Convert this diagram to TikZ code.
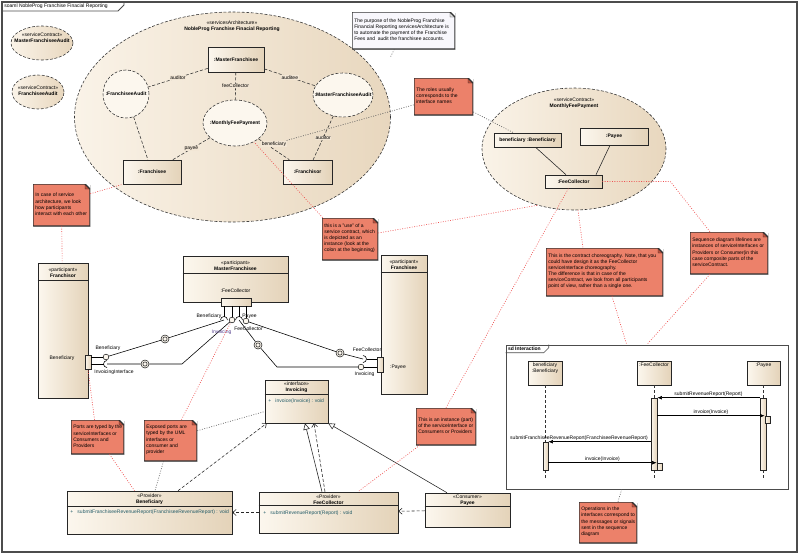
\documentclass[tikz,border=0pt]{standalone}
\usepackage{fontspec}
\setmainfont{Liberation Sans}
\usetikzlibrary{shapes.geometric,arrows.meta,calc,shadows}

\definecolor{boxL}{RGB}{252,247,238}
\definecolor{boxR}{RGB}{228,211,185}
\definecolor{ellL}{RGB}{250,243,232}
\definecolor{ellR}{RGB}{232,215,190}
\definecolor{noteC}{RGB}{236,129,106}
\definecolor{noteD}{RGB}{190,78,58}
\definecolor{purpC}{RGB}{248,247,252}
\definecolor{linkR}{RGB}{238,80,80}
\definecolor{opC}{RGB}{36,92,104}
\definecolor{ifC}{RGB}{84,62,140}

\begin{document}
\begin{tikzpicture}[x=0.7pt,y=-0.7pt,line width=0.4pt,
  every node/.style={font=\fontsize{3.5}{4.3}\selectfont, inner sep=0pt},
  sz/.style 2 args={minimum width=#1*0.7pt, minimum height=#2*0.7pt},
  shad/.style={drop shadow={shadow xshift=0.5pt, shadow yshift=-0.5pt, fill=black!35}},
  ell/.style={ellipse, draw=black!80, dash pattern=on 2pt off 1.2pt, left color=ellL, right color=ellR},
  role/.style={ellipse, draw=black!80, dash pattern=on 2pt off 1.2pt, fill=boxL},
  part/.style={rectangle, draw=black!85, left color=boxL, right color=boxR, shad},
  port/.style={rectangle, draw=black!85, left color=boxL, right color=boxR},
  act/.style={rectangle, draw=black!85, left color=boxL, right color=boxR},
  ball/.style={circle, draw=black!85, fill=boxL, minimum size=4pt},
  asm/.style={circle, draw=black!85, fill=boxL, minimum size=5.6pt,
    path picture={\draw[black!85] (path picture bounding box.center) circle (1.5pt);}},
  notebox/.style 2 args={fill=#1, shad, path picture={
      \coordinate (nne) at (path picture bounding box.north east);
      \coordinate (nsw) at (path picture bounding box.south west);
      \fill[white] ([xshift=-3.5pt]nne) -- (nne) -- ([yshift=-3.5pt]nne) -- cycle;
      \filldraw[fill=#2, draw=black!80, line width=0.3pt] ([xshift=-3.5pt]nne) -- ([xshift=-3.5pt,yshift=-3.5pt]nne) -- ([yshift=-3.5pt]nne) -- cycle;
      \draw[black!80, line width=0.8pt] (nsw) -- (nsw -| nne) -- ([yshift=-3.5pt]nne) -- ([xshift=-3.5pt]nne) -- (nsw |- nne) -- cycle;}},
  ntext/.style={anchor=west, align=left, xshift=1.6pt, yshift=0.5pt},
  note/.style={notebox={noteC}{noteD}, label={[ntext]west:{#1}}},
  pnote/.style={notebox={purpC}{black!12}, label={[ntext]west:{#1}}},
  conn/.style={draw=black!80, dash pattern=on 2.2pt off 1.3pt},
  lbl/.style={fill=ellL!55!ellR, inner sep=0.4pt},
  rlink/.style={draw=linkR, line width=0.45pt, dash pattern=on 0.6pt off 1.1pt},
  glink/.style={draw=black!65, line width=0.45pt, dash pattern=on 0.6pt off 1.1pt},
  dep/.style={draw=black!85, dash pattern=on 2.2pt off 1.3pt, -{Straight Barb[length=2.4pt,width=4.2pt]}},
  gen/.style={draw=black!85, -{Triangle[fill=white, length=4.5pt, width=4.5pt]}},
  life/.style={draw=black!80, dash pattern=on 2pt off 1.5pt},
  msg/.style={draw=black, -{Latex[length=3.2pt, width=2.6pt]}}]
\useasboundingbox (0,0) rectangle (800,555);
% diagram frame
\draw[black!70, line width=0.9pt] (2,2) rectangle (797,552);
\draw[black!70, line width=0.5pt] (2,11) -- (118,11) -- (124,5) -- (124,2);
\node[anchor=west] (title) at (4,6.5) {soaml NobleProg Franchise Finacial Reporting};

% service contracts
\node[ell, sz={62}{34}] (mfaudit) at (42,43) {};
\node[align=center] (mfauditT) at (42,37.5) {«serviceContract»\\\textbf{MasterFranchiseeAudit}};
\node[ell, sz={52}{34}] (faudit) at (38,92) {};
\node[align=center] (fauditT) at (38,90.5) {«serviceContract»\\\textbf{FranchiseeAudit}};

% services architecture
\node[ell, sz={316}{210}] (arch) at (232.5,117) {};
\node[align=center] (archT) at (232,26) {«servicesArchitecture»\\\textbf{NobleProg Franchise Finacial Reporting}};
\node[part, sz={56}{25}] (mfpart) at (236,59.5) {\textbf{:MasterFranchisee}};
\node[role, sz={46}{48}] (faudpart) at (126,94) {};
\node (faudpartT) at (faudpart) {\textbf{:FranchiseeAudit}};
\node[role, sz={64}{46}] (mfpay) at (235,123) {};
\node (mfpayT) at (mfpay) {\textbf{:MonthlyFeePayment}};
\node[role, sz={60}{44}] (mfaudpart) at (343,95) {};
\node (mfaudpartT) at (mfaudpart) {\textbf{:MasterFranchiseeAudit}};
\node[part, sz={58}{24}] (frchee) at (152,172) {\textbf{:Franchisee}};
\node[part, sz={49}{24}] (frchor) at (307.5,172) {\textbf{:Franchisor}};
\draw[conn] (mfpart) -- node[lbl] {auditor} (faudpart);
\draw[conn] (mfpart) -- node[lbl] {feeCollector} (mfpay);
\draw[conn] (mfpart) -- node[lbl] {auditee} (mfaudpart);
\draw[conn] (faudpart) -- (frchee);
\draw[conn] (mfpay) -- node[lbl] {payee} (frchee);
\draw[conn] (mfpay) -- node[lbl, above=1.5pt] (lbben) {beneficiary} (frchor);
\draw[conn] (mfaudpart) -- node[lbl] {auditor} (frchor);

% service contract MonthlyFeePayment
\node[ell, sz={184}{122}] (scmfp) at (574,149) {};
\node[align=center] (scmfpT) at (574,103) {«serviceContract»\\\textbf{MonthlyFeePayment}};
\node[part, sz={67}{14}] (scben) at (527.5,140) {\textbf{beneficiary :Beneficiary}};
\node[part, sz={68}{17}] (scpay) at (614,136.5) {\textbf{:Payee}};
\node[part, sz={57}{13}] (scfee) at (573.5,181.5) {\textbf{:FeeCollector}};
\draw[black!85] (scben) -- (scfee);
\draw[black!85] ($(scpay.south)+(-4,0)$) -- ($(scfee.north)+(22.5,0)$);

% notes
\node[pnote={The purpose of the NobleProg Franchise\\Financial Reporting servicesArchitecture is\\to automate the payment of the Franchise\\Fees and \ audit the franchisee accounts.}, sz={103}{37}] (npurp) at (403.5,30.5) {};
\node[note={The roles usually\\corresponds to the\\interface names}, sz={59}{37}] (nroles) at (443.5,96.5) {};
\node[note={In case of service\\architecture, we look\\how participants\\interact with each other}, sz={57}{42}] (ncase) at (61.5,205) {};
\node[note={this is a "use" of a\\service contract, which\\is depicted as an\\instance (look at the\\colon at the beginning)}, sz={56}{42}] (nuse) at (350,239) {};
\node[note={This is the contract choreography. Note, that you\\could have design it as the FeeCollector\\serviceInterface choreography.\\The difference is that in case of the\\serviceContract, we look from all participants\\point of view, rather than a single one.}, sz={117}{48}] (nchor) at (604.5,272) {};
\node[note={Sequence diagram lifelines are\\instances of serviceInterfaces or\\Providers or Consumer(in this\\case composite parts of the\\serviceContract.}, sz={78}{42}] (nlife) at (729,253) {};
\node[note={Ports are typed by the\\serviceInterfaces or\\Consumers and\\Providers}, sz={53}{34}] (nports) at (97.5,437) {};
\node[note={Exposed ports are\\typed by the UML\\interfaces or\\consumer and\\provider}, sz={53}{41}] (nexp) at (170.5,440.5) {};
\node[note={This is an instance (part)\\of the serviceInterface or\\Consumers or Providers}, sz={60}{37}] (ninst) at (446,426.5) {};
\node[note={Operations in the\\interfaces correspond to\\the messages or signals\\sent in the sequence\\diagram}, sz={58}{41}] (nops) at (608,522.5) {};

% participants
\node[part, sz={50}{135}] (pfror) at (63,330.5) {};
\draw[black!85] ($(pfror.north west)+(0,18)$) -- ($(pfror.north east)+(0,18)$);
\node[align=center] (pfrorT) at (63,272.5) {«participant»\\\textbf{Franchisor}};
\node (pfrorB) at (62,358) {Beneficiary};
\node[part, sz={105}{46}] (pmf) at (235.5,279) {};
\draw[black!85] ($(pmf.north west)+(0,18)$) -- ($(pmf.north east)+(0,18)$);
\node[align=center] (pmfT) at (235.5,266) {«participant»\\\textbf{MasterFranchisee}};
\node (pmfF) at (235.5,291) {:FeeCollector};
\node[part, sz={46}{139}] (pfee) at (404,324.5) {};
\draw[black!85] ($(pfee.north west)+(0,18)$) -- ($(pfee.north east)+(0,18)$);
\node[align=center] (pfeeT) at (404,265) {«participant»\\\textbf{Franchisee}};
\node (pfeeP) at (398,367) {:Payee};

% ports, balls and sockets
\node[port, sz={6}{14}] (portFr) at (88,362) {};
\node[port, sz={30}{8}] (portMF) at (236,302) {};
\node[port, sz={6}{15}] (portFe) at (380,364.5) {};
\node[ball] (frBen) at (106,357) {};
\coordinate (frInv) at (107,364);
\coordinate (mfBen) at (224,320);
\node[ball] (mfInv) at (232,320) {};
\coordinate (mfFee) at (239,320);
\node[ball] (mfPay) at (246,321) {};
\coordinate (feFee) at (363,359);
\node[ball] (feInv) at (361,367) {};
\draw (portFr.east |- frBen) -- (frBen);
\draw (portFr.east |- frInv) -- ($(frInv)+(-3.5,0)$);
\draw ($(frInv)+(0,3.5)$) arc[start angle=90, end angle=270, radius=3.5];
\draw (portMF.south -| mfBen) -- ($(mfBen)+(0,-3.5)$);
\draw ($(mfBen)+(-3.5,0)$) arc[start angle=180, end angle=360, radius=3.5];
\draw (portMF.south -| mfInv) -- (mfInv);
\draw (portMF.south -| mfFee) -- ($(mfFee)+(0,-3.5)$);
\draw ($(mfFee)+(-3.5,0)$) arc[start angle=180, end angle=360, radius=3.5];
\draw (portMF.south -| mfPay) -- (mfPay);
\draw (portFe.west |- feFee) -- ($(feFee)+(3.5,0)$);
\draw ($(feFee)+(0,-3.5)$) arc[start angle=-90, end angle=90, radius=3.5];
\draw (portFe.west |- feInv) -- (feInv);

% assemblies
\node[asm] (asm1) at (165,339) {};
\node[asm] (asm2) at (145,364) {};
\node[asm] (asm3) at (258,345) {};
\node[asm] (asm4) at (340,353) {};
\coordinate (bendB) at (182,364);
\coordinate (bendC) at (277,367);
\draw (frBen) -- (asm1) -- (mfBen);
\draw (frInv) -- (asm2) -- (bendB) -- (mfInv);
\draw (mfFee) -- (asm3) -- (bendC) -- (feInv);
\draw (mfPay) -- (asm4) -- (feFee);
\node (lbFrBen) at (108,348) {Beneficiary};
\node (lbFrInv) at (114,372) {InvoicingInterface};
\node (lbMfBen) at (209,316) {Beneficiary};
\node[text=ifC] (lbMfInv) at (221.5,332) {Invoicing};
\node (lbMfFee) at (248.5,329) {FeeCollector};
\node (lbMfPay) at (249.5,316) {Payee};
\node (lbFeFee) at (367,350) {FeeCollector};
\node (lbFeInv) at (364.5,374) {Invoicing};

% classes
\node[part, sz={63}{43}] (cinv) at (296.5,401.5) {};
\draw[black!85] ($(cinv.north west)+(0,15)$) -- ($(cinv.north east)+(0,15)$);
\node[align=center] (cinvT) at (296.5,387.5) {«interface»\\\textbf{Invoicing}};
\node[anchor=west, text=opC] (cinvO) at (268,401) {+\hspace{3pt}invoice(Invoice) : void};
\node[part, sz={165}{43}] (cben) at (149.5,512.5) {};
\draw[black!85] ($(cben.north west)+(0,16)$) -- ($(cben.north east)+(0,16)$);
\node[align=center] (cbenT) at (149.5,499.5) {«Provider»\\\textbf{Beneficiary}};
\node[anchor=west, text=opC] (cbenO) at (70,512) {+\hspace{3pt}submitFranchiseeRevenueReport(FranchiseeRevenueReport) : void};
\node[part, sz={139}{41}] (cfee) at (328.5,512.5) {};
\draw[black!85] ($(cfee.north west)+(0,14)$) -- ($(cfee.north east)+(0,14)$);
\node[align=center] (cfeeT) at (328.5,499.5) {«Provider»\\\textbf{FeeCollector}};
\node[anchor=west, text=opC] (cfeeO) at (263,513) {+\hspace{3pt}submitRevenueReport(Report) : void};
\node[part, sz={85}{34}] (cpay) at (467.5,510) {};
\draw[black!85] ($(cpay.north west)+(0,14)$) -- ($(cpay.north east)+(0,14)$);
\node[align=center] (cpayT) at (467.5,500.5) {«Consumer»\\\textbf{Payee}};
\draw[dep] (cfee) -- (cben);
\draw[dep] (cpay) -- (cfee);
\draw[dep] ($(cben.north)+(28.5,0)$) -- ($(cinv.south west)+(2,0)$);
\draw[gen] ($(cfee.north)+(-6.5,0)$) -- ($(cinv.south)+(8.5,0)$);
\draw[dep] ($(cfee.north)+(-3.5,0)$) -- ($(cinv.south)+(17.5,0)$);
\draw[gen] ($(cpay.north)+(-20.5,0)$) -- (cinv.south east);

% interaction
\node[draw=black!70, sz={282}{144}] (sd) at (647,417) {};
\draw[black!70] ($(sd.north west)+(0,8)$) -- ($(sd.north west)+(38,8)$) -- ($(sd.north west)+(43,3)$) -- ($(sd.north west)+(43,0)$);
\node[anchor=west] (sdT) at ($(sd.north west)+(2,4)$) {\textbf{sd Interaction}};
\node[part, sz={34}{24}, label={[align=center, anchor=north, yshift=-1.5pt]north:{beneficiary\\:Beneficiary}}] (llben) at (545,373) {};
\node[part, sz={34}{24}, label={[anchor=north, yshift=-1.5pt]north:{:FeeCollector}}] (llfee) at (654,373) {};
\node[part, sz={33}{24}, label={[anchor=north, yshift=-1.5pt]north:{:Payee}}] (llpay) at (763.5,373) {};
\coordinate (llbenE) at (545,480);
\coordinate (llfeeE) at (654,480);
\coordinate (llpayE) at (763.5,480);
\draw[life] (llben) -- (llbenE);
\draw[life] (llfee) -- (llfeeE);
\draw[life] (llpay) -- (llpayE);
\node[act, sz={5}{28}] (actben) at (545.5,456) {};
\node[act, sz={6}{72}] (actfee) at (654,434) {};
\node[act, sz={5}{7}] (actfee2) at (659.5,466.5) {};
\node[act, sz={6}{72}] (actpay) at (763,434) {};
\node[act, sz={5}{7}] (actpay2) at (767.5,419.5) {};
\draw[msg] (actpay.north west) -- node[above=0.8pt] {submitRevenueReport(Report)} (actfee.north east);
\draw[msg] ($(actfee.north east)+(0,18)$) -- node[above=0.8pt] {invoice(Invoice)} (actpay2.north west);
\draw[msg] ($(actfee.north west)+(0,44)$) -- node[above=0.8pt, pos=0.7] {submitFranchiseeRevenueReport(FranchiseeRevenueReport)} (actben.north east);
\draw[msg] ($(actben.north east)+(0,21)$) -- node[above=0.8pt] {invoice(Invoice)} (actfee2.north west);

% note links
\coordinate (purpE) at (390,58);
\draw[glink] (npurp) -- (purpE);
\draw[glink] (nroles) -- (lbben);
\draw[glink] (nroles) -- (scben);
\draw[rlink] ($(ncase.north east)+(0,10)$) -- (frchee.south west);
\draw[rlink] (ncase) -- (pfror);
\draw[rlink] ($(nports.north)+(-3,0)$) -- (portFr.south);
\draw[rlink] ($(nports.south)+(12,0)$) -- ($(cben.north)+(-15,0)$);
\draw[rlink] ($(nexp.north)+(11,0)$) -- (mfInv);
\draw[glink] ($(nexp.south)+(-7,0)$) -- ($(cben.north)+(5.5,0)$);
\draw[glink] ($(nexp.north east)+(0,11)$) -- ($(cinv.west)+(0,10)$);
\draw[rlink] (ninst.north) -- ($(scfee.south)+(-5,0)$);
\draw[rlink] ($(ninst.south west)+(4,0)$) -- ($(cfee.north)+(29.5,0)$);
\draw[rlink] ($(nuse.north west)+(1,0)$) -- (mfpay.-45);
\draw[rlink] ($(nuse.east)+(0,-6)$) -- (scmfp.-123);
\draw[rlink] ($(scmfp.south)+(4,0)$) -- ($(nchor.north)+(-21.5,0)$);
\draw[rlink] (scfee.east) -- ++(68,0) -- ($(nlife.north)+(-19,0)$);
\draw[rlink] ($(nchor.south)+(7.5,0)$) -- ($(sd.north west)+(121,0)$);
\draw[rlink] ($(nlife.south)+(-19,0)$) -- ($(sd.north west)+(141,0)$);
\draw[glink] ($(nops.north)+(10,0)$) -- ($(sd.south west)+(116,0)$);
\end{tikzpicture}
\end{document}
